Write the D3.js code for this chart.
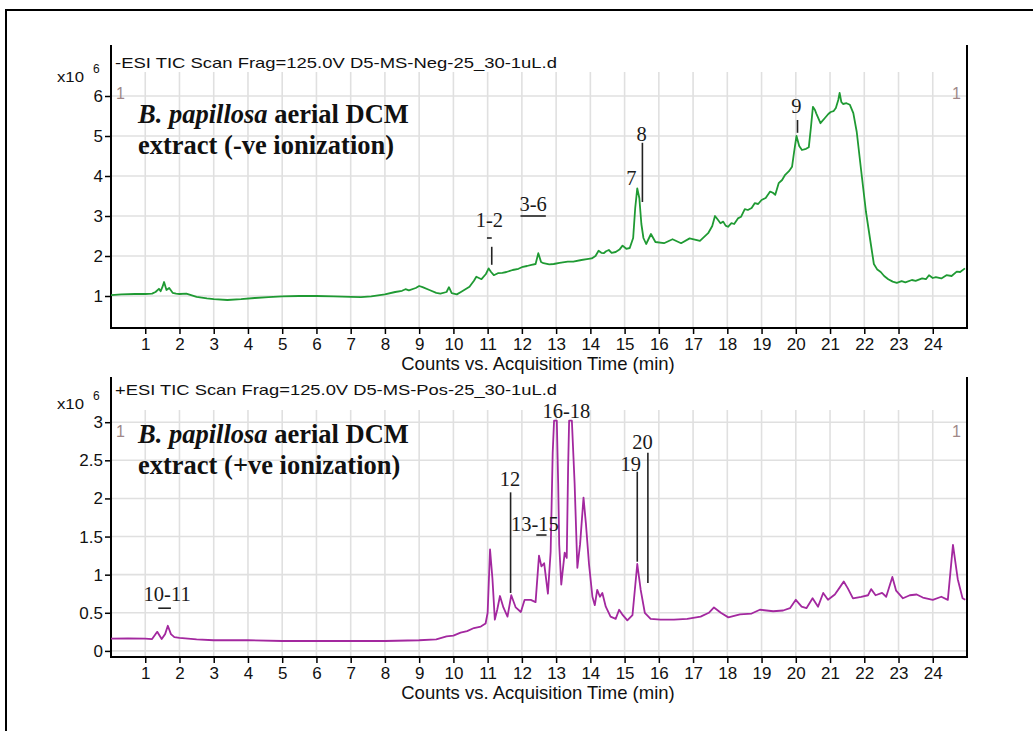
<!DOCTYPE html>
<html><head><meta charset="utf-8">
<script src="https://cdn.jsdelivr.net/npm/d3@7"></script>
<style>body{margin:0;background:#fff}svg{display:block}</style>
</head><body><svg id="c" width="1033" height="731"></svg>
<script>
// ---------- data ----------
const xTicks = d3.range(1, 25);
const negYTicks = [1, 2, 3, 4, 5, 6];
const posYTicks = [0, 0.5, 1, 1.5, 2, 2.5, 3];
const negTitle = "-ESI TIC Scan Frag=125.0V D5-MS-Neg-25_30-1uL.d";
const posTitle = "+ESI TIC Scan Frag=125.0V D5-MS-Pos-25_30-1uL.d";
const xTitle = "Counts vs. Acquisition Time (min)";
const negHeading = ["aerial DCM", "extract (-ve ionization)"];
const posHeading = ["aerial DCM", "extract (+ve ionization)"];
const species = "B. papillosa";

// [time (min), counts (x10^6)]
const negTrace = [[0,1.02],[0.3,1.04],[0.7,1.05],[1.0,1.05],[1.2,1.06],[1.3,1.1],[1.4,1.18],[1.45,1.12],[1.5,1.22],[1.55,1.35],[1.62,1.15],[1.7,1.2],[1.8,1.08],[1.9,1.06],[2.0,1.05],[2.2,1.06],[2.5,0.98],[2.8,0.94],[3.0,0.92],[3.4,0.9],[3.8,0.92],[4.2,0.95],[4.6,0.97],[5.0,0.99],[5.5,1.0],[6.0,1.0],[6.5,0.99],[7.0,0.98],[7.3,0.97],[7.6,0.99],[8.0,1.04],[8.3,1.1],[8.5,1.13],[8.6,1.17],[8.7,1.14],[8.9,1.2],[9.0,1.25],[9.1,1.22],[9.3,1.15],[9.5,1.08],[9.62,1.06],[9.8,1.1],[9.87,1.22],[9.95,1.07],[10.1,1.04],[10.22,1.1],[10.47,1.23],[10.6,1.38],[10.67,1.48],[10.82,1.42],[10.95,1.55],[11.03,1.69],[11.1,1.6],[11.18,1.52],[11.3,1.57],[11.43,1.58],[11.55,1.6],[11.73,1.65],[11.9,1.68],[12.03,1.73],[12.15,1.75],[12.28,1.78],[12.4,1.8],[12.48,2.07],[12.56,1.85],[12.63,1.82],[12.8,1.79],[12.93,1.8],[13.1,1.83],[13.34,1.86],[13.5,1.86],[13.74,1.9],[13.9,1.92],[14.04,1.94],[14.15,2.0],[14.24,2.13],[14.32,2.08],[14.39,2.07],[14.46,2.12],[14.54,2.15],[14.62,2.08],[14.74,2.1],[14.85,2.16],[14.94,2.26],[15.05,2.18],[15.15,2.2],[15.25,2.45],[15.31,3.2],[15.37,3.69],[15.43,3.45],[15.49,2.8],[15.55,2.45],[15.63,2.3],[15.77,2.55],[15.9,2.35],[16.15,2.32],[16.4,2.42],[16.65,2.32],[16.9,2.44],[17.2,2.38],[17.44,2.57],[17.56,2.75],[17.64,3.0],[17.73,2.9],[17.8,2.82],[17.88,2.86],[17.95,2.76],[18.02,2.73],[18.12,2.82],[18.2,2.8],[18.31,2.94],[18.4,2.98],[18.51,3.17],[18.6,3.15],[18.71,3.2],[18.8,3.32],[18.9,3.3],[19.0,3.4],[19.12,3.45],[19.25,3.61],[19.33,3.58],[19.4,3.53],[19.5,3.82],[19.6,3.9],[19.69,4.03],[19.8,4.12],[19.89,4.23],[19.95,4.6],[20.02,5.0],[20.1,4.75],[20.18,4.65],[20.3,4.68],[20.38,4.72],[20.44,5.2],[20.5,5.73],[20.56,5.65],[20.6,5.56],[20.72,5.32],[20.85,5.45],[20.95,5.55],[21.02,5.6],[21.1,5.62],[21.17,5.7],[21.24,5.9],[21.28,6.08],[21.33,5.85],[21.38,5.8],[21.48,5.82],[21.58,5.78],[21.68,5.57],[21.78,5.1],[21.9,4.2],[22.05,3.1],[22.2,2.25],[22.28,1.8],[22.38,1.66],[22.48,1.6],[22.58,1.5],[22.7,1.42],[22.83,1.36],[22.95,1.33],[23.09,1.37],[23.2,1.34],[23.39,1.4],[23.5,1.38],[23.69,1.44],[23.8,1.42],[23.89,1.52],[24.0,1.45],[24.09,1.47],[24.25,1.44],[24.4,1.52],[24.55,1.5],[24.7,1.61],[24.8,1.6],[24.94,1.69]];

const posTrace = [[0,0.16],[0.5,0.165],[1.0,0.16],[1.2,0.155],[1.35,0.25],[1.48,0.155],[1.58,0.22],[1.66,0.33],[1.75,0.22],[1.85,0.18],[2.0,0.17],[2.5,0.15],[3.0,0.14],[4.0,0.14],[5,0.13],[6,0.13],[7,0.13],[8,0.13],[9,0.14],[9.5,0.15],[9.8,0.19],[10.0,0.2],[10.21,0.24],[10.4,0.26],[10.6,0.3],[10.8,0.32],[10.94,0.36],[11.0,0.5],[11.07,1.33],[11.14,0.95],[11.21,0.41],[11.28,0.54],[11.36,0.72],[11.46,0.57],[11.58,0.45],[11.69,0.73],[11.82,0.57],[11.97,0.51],[12.08,0.67],[12.26,0.67],[12.4,0.64],[12.5,1.25],[12.57,1.11],[12.65,1.15],[12.76,0.75],[12.84,1.3],[12.9,2.6],[12.94,3.02],[13.02,3.02],[13.06,2.2],[13.09,1.4],[13.15,0.87],[13.25,1.29],[13.31,1.22],[13.35,2.4],[13.38,3.02],[13.46,3.02],[13.54,2.2],[13.62,1.09],[13.7,1.4],[13.8,2.01],[13.87,1.67],[13.96,1.14],[14.06,0.71],[14.13,0.6],[14.2,0.8],[14.28,0.71],[14.35,0.76],[14.45,0.58],[14.59,0.45],[14.74,0.42],[14.84,0.54],[14.93,0.48],[15.08,0.4],[15.23,0.47],[15.37,1.14],[15.47,0.8],[15.59,0.5],[15.76,0.42],[16.05,0.41],[16.44,0.41],[16.83,0.42],[17.22,0.45],[17.46,0.5],[17.61,0.57],[17.81,0.5],[18.03,0.44],[18.37,0.48],[18.71,0.49],[18.95,0.54],[19.34,0.52],[19.63,0.53],[19.83,0.56],[20.0,0.67],[20.17,0.58],[20.31,0.56],[20.49,0.69],[20.65,0.58],[20.8,0.76],[20.94,0.67],[21.14,0.74],[21.28,0.83],[21.4,0.91],[21.52,0.82],[21.67,0.69],[21.91,0.71],[22.11,0.73],[22.2,0.81],[22.33,0.73],[22.52,0.76],[22.64,0.71],[22.82,0.97],[22.93,0.79],[23.13,0.69],[23.33,0.73],[23.53,0.74],[23.71,0.7],[24.0,0.67],[24.25,0.71],[24.44,0.67],[24.59,1.39],[24.73,0.94],[24.87,0.69],[24.95,0.67]];

// peak labels: text, time, counts(baseline)
const negLabels = [["1-2",11.05,2.72],["3-6",12.33,3.12],["7",15.2,3.78],["8",15.5,4.88],["9",20.02,5.58]];
const posLabels = [["10-11",1.64,0.655],["12",11.65,2.16],["13-15",12.38,1.57],["16-18",13.3,3.05],["19",15.18,2.36],["20",15.52,2.65]];
// marker lines: time, counts from, counts to
const negMarks = [[11.12,2.23,1.78],[15.52,4.83,3.35],[20.05,5.4,5.08]];
const posMarks = [[11.67,2.08,0.76],[15.37,2.35,1.17],[15.68,2.6,0.89]];
// short underlines: time from, time to, counts
const negBars = [[10.98,11.12,2.45],[11.96,12.7,3.0]];
const posBars = [[1.38,1.75,0.56],[12.42,12.72,1.52]];

// ---------- drawing ----------
const svg = d3.select("#c");
const sans = "Liberation Sans, Arial, sans-serif";
const serif = "Liberation Serif, Times New Roman, serif";

svg.append("path").attr("d","M6,731V10H1033").attr("fill","none").attr("stroke","#000").attr("stroke-width",2);

const x = d3.scaleLinear().domain([0, 25]).range([111, 967]);

function panel(cfg) {
  const y = d3.scaleLinear().domain(cfg.domain).range([cfg.bottom, cfg.top]);
  const g = svg.append("g");
  const cid = "clip" + cfg.id;
  svg.append("clipPath").attr("id", cid).append("rect")
    .attr("x", 111).attr("y", cfg.top).attr("width", 856).attr("height", cfg.bottom - cfg.top);

  // grid
  g.append("g").selectAll("line").data(xTicks).join("line")
    .attr("x1", d => x(d)).attr("x2", d => x(d)).attr("y1", cfg.top).attr("y2", cfg.bottom)
    .attr("stroke", "#e0e0e0").attr("stroke-width", 1.6);
  g.append("g").selectAll("line").data(cfg.yTicks).join("line")
    .attr("x1", 111).attr("x2", 967).attr("y1", d => y(d)).attr("y2", d => y(d))
    .attr("stroke", "#e0e0e0").attr("stroke-width", 1.6);

  // axes
  const xa = g.append("g").attr("transform", `translate(0,${cfg.bottom})`)
    .call(d3.axisBottom(x).tickValues(xTicks).tickSize(6).tickPadding(4).tickSizeOuter(0));
  const ya = g.append("g").attr("transform", "translate(111,0)")
    .call(d3.axisLeft(y).tickValues(cfg.yTicks).tickFormat(d3.format("~g")).tickSize(6).tickPadding(2).tickSizeOuter(0));
  [xa, ya].forEach(a => {
    a.select(".domain").remove();
    a.selectAll("line").attr("stroke", "#000").attr("stroke-width", 1.5);
    a.selectAll("text").attr("font-family", sans).attr("font-size", 17).attr("fill", "#111");
  });

  // frame
  g.append("path").attr("d", `M111,${cfg.frameTop}V${cfg.bottom}H967V${cfg.frameTop}`)
    .attr("fill", "none").attr("stroke", "#000").attr("stroke-width", 2);

  // header
  g.append("text").attr("x", 115).attr("y", cfg.titleY).attr("font-family", sans).attr("font-size", 15)
    .attr("textLength", 442).attr("lengthAdjust", "spacingAndGlyphs")
    .attr("fill", "#111").text(cfg.title);
  g.append("text").attr("x", 57).attr("y", cfg.titleY + 14).attr("font-family", sans).attr("font-size", 15)
    .attr("textLength", 27).attr("lengthAdjust", "spacingAndGlyphs")
    .attr("fill", "#111").text("x10");
  g.append("text").attr("x", 93).attr("y", cfg.titleY + 5).attr("font-family", sans).attr("font-size", 12)
    .attr("fill", "#111").text("6");
  g.append("text").attr("x", 116).attr("y", cfg.top + 27).attr("font-family", sans).attr("font-size", 16)
    .attr("fill", "#a08888").text("1");
  g.append("text").attr("x", 952).attr("y", cfg.top + 27).attr("font-family", sans).attr("font-size", 16)
    .attr("fill", "#a08888").text("1");

  // trace
  const line = d3.line().x(d => x(d[0])).y(d => y(d[1]));
  g.append("path").datum(cfg.trace).attr("clip-path", `url(#${cid})`)
    .attr("d", line).attr("fill", "none").attr("stroke", cfg.color).attr("stroke-width", 1.8)
    .attr("stroke-linejoin", "round");

  // heading
  const h = g.append("text").attr("x", 138).attr("y", cfg.headY).attr("font-family", serif)
    .attr("font-size", 26.5).attr("font-weight", "bold").attr("fill", "#111");
  h.append("tspan").attr("font-style", "italic").text(species);
  h.append("tspan").text(" " + cfg.heading[0]);
  g.append("text").attr("x", 138).attr("y", cfg.headY + 31).attr("font-family", serif)
    .attr("font-size", 26.5).attr("font-weight", "bold").attr("fill", "#111").text(cfg.heading[1]);

  // annotations
  g.append("g").selectAll("text").data(cfg.labels).join("text")
    .attr("x", d => x(d[1])).attr("y", d => y(d[2])).attr("text-anchor", "middle")
    .attr("font-family", serif).attr("font-size", 20.5).attr("fill", "#1a1a1a").text(d => d[0]);
  g.append("g").selectAll("line").data(cfg.marks).join("line")
    .attr("x1", d => x(d[0])).attr("x2", d => x(d[0])).attr("y1", d => y(d[1])).attr("y2", d => y(d[2]))
    .attr("stroke", "#222").attr("stroke-width", 1.6);
  g.append("g").selectAll("line").data(cfg.bars).join("line")
    .attr("x1", d => x(d[0])).attr("x2", d => x(d[1])).attr("y1", d => y(d[2])).attr("y2", d => y(d[2]))
    .attr("stroke", "#222").attr("stroke-width", 1.6);

  // x title
  g.append("text").attr("x", 538).attr("y", cfg.bottom + 42).attr("text-anchor", "middle")
    .attr("font-family", sans).attr("font-size", 18.5).attr("fill", "#111").text(xTitle);
}

panel({id: "n", top: 72, bottom: 328, frameTop: 45, titleY: 68, domain: [0.2, 6.6], yTicks: negYTicks,
  title: negTitle, trace: negTrace, color: "#1f9a33", heading: negHeading, headY: 123,
  labels: negLabels, marks: negMarks, bars: negBars});
panel({id: "p", top: 410, bottom: 657, frameTop: 377, titleY: 395, domain: [-0.08, 3.16], yTicks: posYTicks,
  title: posTitle, trace: posTrace, color: "#a3289f", heading: posHeading, headY: 443,
  labels: posLabels, marks: posMarks, bars: posBars});
</script></body></html>
